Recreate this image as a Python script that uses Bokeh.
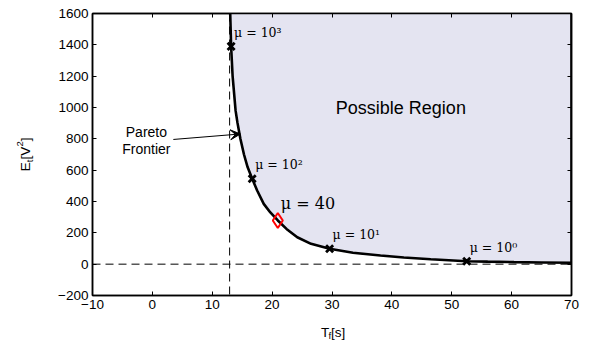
import math
from bokeh.plotting import figure
from bokeh.layouts import row, column
from bokeh.models import (Range1d, FixedTicker, LinearAxis, Label, Arrow, VeeHead,
                          ColumnDataSource, Span)
from bokeh.embed import file_html
from bokeh.resources import INLINE
from bokeh.core.properties import value

# ---------------- data ----------------
curve_T = [13.0, 13.15, 13.4, 13.9, 14.2, 14.7, 15.3, 15.9, 16.67, 17.5, 18.6, 19.7,
           20.95, 22.4, 24.2, 26.5, 29.6, 33.5, 38.1, 42.0, 46.5, 52.5, 56.0, 60.4, 65.0, 70.0]
curve_E = [1600, 1390, 1200, 980, 905, 800, 700, 620, 545, 470, 385, 330,
           279, 225, 172, 130, 98, 73, 55, 43, 31, 19, 16, 13, 11, 9]

mu_T = [13.15, 16.67, 29.6, 52.5]
mu_E = [1390, 545, 98, 19]
mu_labels = ["μ = 10³", "μ = 10²", "μ = 10¹", "μ = 10⁰"]

sel_T = [20.95]
sel_E = [279]
sel_label = ["μ = 40"]

T_min = 12.9       # vertical dashed asymptote
E_min = 0          # horizontal dashed asymptote

x_ticks = [-10, 0, 10, 20, 30, 40, 50, 60, 70]
x_tick_labels = ["−10", "0", "10", "20", "30", "40", "50", "60", "70"]
y_ticks = [-200, 0, 200, 400, 600, 800, 1000, 1200, 1400, 1600]
y_tick_labels = ["−200", "0", "200", "400", "600", "800", "1000", "1200", "1400", "1600"]

x_lo, x_hi = -10, 70
y_lo, y_hi = -200, 1600

region_text = "Possible Region"
region_pos = (41.5, 1000)
pareto_text = ["Pareto", "Frontier"]
pareto_pos = (-1.0, 845)
arrow_start = (3.5, 796)
arrow_end = (14.7, 831)

# axis-title pieces: (text, x, y, font size) in pixels of the helper panels
xlabel_parts = [("T", 262.0, 8.3, "13.5px"), ("f", 270.5, 4.6, "9.5px"), ("[s]", 273.3, 8.3, "13.5px")]
ylabel_parts = [("E", 25.0, 169.3, "13.5px"), ("t", 28.5, 178.3, "9.5px"), ("[V", 25.0, 181.1, "13.5px"),
                ("2", 19.5, 193.9, "9.5px"), ("]", 25.0, 199.3, "13.5px")]

FONT = "Liberation Sans"

# ---------------- main figure ----------------
p = figure(width=549, height=318, output_backend="svg", toolbar_location=None,
           x_range=Range1d(x_lo, x_hi), y_range=Range1d(y_lo, y_hi),
           min_border_left=52, min_border_right=18, min_border_top=13, min_border_bottom=23)
p.grid.visible = False
p.outline_line_color = "black"
p.outline_line_width = 1.5
p.background_fill_color = "white"
p.border_fill_color = "white"

def style_axis(ax, ticks, labels=None):
    ax.ticker = FixedTicker(ticks=ticks)
    ax.major_tick_in = 4
    ax.major_tick_out = 0
    ax.minor_tick_line_color = None
    ax.axis_line_width = 1.5
    ax.major_tick_line_width = 1
    ax.major_tick_line_color = "black"
    ax.axis_line_color = "black"
    if labels is not None:
        ax.major_label_overrides = dict(zip(ticks, labels))
        ax.major_label_text_font = FONT
        ax.major_label_text_font_size = "13.5px"
        ax.major_label_text_color = "black"
        ax.major_label_standoff = 4
    else:
        ax.major_label_text_color = None
        ax.major_label_text_font_size = "1px"
        ax.major_label_standoff = 0

style_axis(p.xaxis[0], x_ticks, x_tick_labels)
style_axis(p.yaxis[0], y_ticks, y_tick_labels)
top = LinearAxis()
style_axis(top, x_ticks)
p.add_layout(top, "above")
right = LinearAxis()
style_axis(right, y_ticks)
p.add_layout(right, "right")

# possible region fill
fill_x = curve_T + [curve_T[-1], curve_T[0]]
fill_y = curve_E + [y_hi, y_hi]
p.patch(fill_x, fill_y, fill_color="#E4E4F1", line_color=None)

# dashed asymptotes
p.add_layout(Span(location=T_min, dimension="height", line_color="black",
                  line_width=1, line_dash="8 5"))
p.add_layout(Span(location=E_min, dimension="width", line_color="black",
                  line_width=1, line_dash="8 5"))

# Pareto frontier
p.line(curve_T, curve_E, line_color="black", line_width=2.6)
p.line([curve_T[-1], curve_T[-1]], [curve_E[-1], y_hi], line_color="black", line_width=2.6)

# markers
p.scatter(mu_T, mu_E, marker="x", size=10, line_color="black", line_width=2.8)
p.scatter(sel_T, sel_E, marker="diamond", size=15, line_color="red", line_width=2,
          fill_color=None)

src = ColumnDataSource(dict(x=mu_T, y=mu_E, t=mu_labels))
p.text(x="x", y="y", text="t", source=src, x_offset=3, y_offset=-14,
       text_font=value("DejaVu Serif"), text_font_size="12.5px", text_baseline="middle",
       text_align="left", text_color="black")
src2 = ColumnDataSource(dict(x=sel_T, y=sel_E, t=sel_label))
p.text(x="x", y="y", text="t", source=src2, x_offset=3, y_offset=-17,
       text_font=value("DejaVu Serif"), text_font_size="16px", text_baseline="middle",
       text_align="left", text_color="black")

# annotations
p.add_layout(Label(x=region_pos[0], y=region_pos[1], text=region_text, text_font=FONT,
                   text_font_size="18px", text_align="center", text_baseline="middle",
                   text_color="black"))
p.add_layout(Label(x=pareto_pos[0], y=pareto_pos[1], text=pareto_text[0], text_font=FONT,
                   text_font_size="14px", text_align="center", text_baseline="middle",
                   text_color="black"))
p.add_layout(Label(x=pareto_pos[0], y=pareto_pos[1], y_offset=-17.5, text=pareto_text[1],
                   text_font=FONT, text_font_size="14px", text_align="center",
                   text_baseline="middle", text_color="black"))
p.add_layout(Arrow(end=VeeHead(size=10, line_color="black", fill_color="black", line_width=1),
                   x_start=arrow_start[0], y_start=arrow_start[1],
                   x_end=arrow_end[0], y_end=arrow_end[1], line_width=1, line_color="black"))

# ---------------- helper panels for the axis titles ----------------
def blank(w, h):
    f = figure(width=w, height=h, output_backend="svg", toolbar_location=None,
               x_range=Range1d(0, w), y_range=Range1d(0, h),
               x_axis_type=None, y_axis_type=None,
               min_border=0, min_border_left=0, min_border_right=0,
               min_border_top=0, min_border_bottom=0)
    f.grid.visible = False
    f.outline_line_color = None
    f.background_fill_color = "white"
    f.border_fill_color = "white"
    return f

xl = blank(549, 22)
for txt, x, y, fs in xlabel_parts:
    xl.text(x=[x], y=[y], text=[txt], text_font=value(FONT), text_font_size=fs,
            text_align="left", text_baseline="alphabetic", text_color="black")

yl = blank(40, 340)
for txt, x, y, fs in ylabel_parts:
    yl.text(x=[x], y=[y], text=[txt], text_font=value(FONT), text_font_size=fs,
            text_align="left", text_baseline="alphabetic", text_color="black",
            angle=math.pi / 2)

layout = row(yl, column(p, xl, spacing=0), spacing=0)

open("out.html", "w").write(file_html(layout, INLINE))
